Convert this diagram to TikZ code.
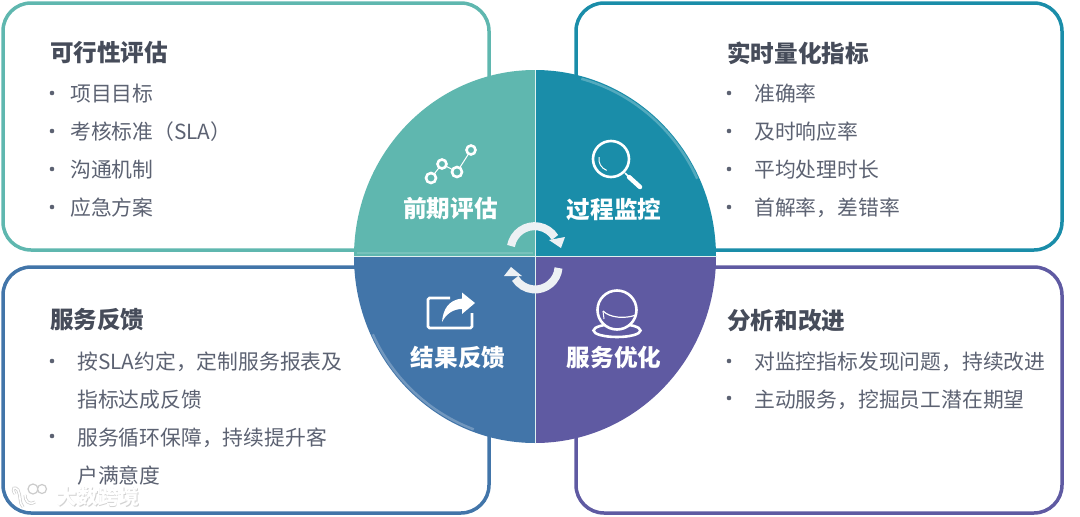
\documentclass[tikz,border=0pt]{standalone}
\usepackage{fontspec}
\setmainfont{Noto Sans CJK SC}
\usepackage{xcolor}
\usetikzlibrary{arrows.meta,positioning,calc}
\definecolor{ink}{HTML}{464C5A}
\definecolor{slate}{HTML}{5C6272}
\definecolor{tealq}{HTML}{5FB7AF}
\definecolor{cyanq}{HTML}{1A8DA9}
\definecolor{blueq}{HTML}{4275A9}
\definecolor{violetq}{HTML}{5F5AA2}
\definecolor{cycle}{HTML}{EDF1F4}
\tikzset{
  panel/.style={draw=#1,line width=3.5pt,rounded corners=28pt,fill=white},
  title/.style={font=\fontsize{23.6}{25}\selectfont\bfseries,text=ink,anchor=west,inner sep=0pt},
  item/.style={font=\fontsize{20.8}{23}\selectfont,text=slate,anchor=north west,inner sep=0pt,minimum height=37.6pt,text height=19pt,text depth=3pt},
  dot/.style={circle,fill=slate,inner sep=0pt,minimum size=4.6pt},
  quad/.style={font=\fontsize{23.6}{25}\selectfont\bfseries,text=white,inner sep=0pt},
  icon/.style={draw=white,line width=2.6pt},
  cyclearr/.style={draw=cycle,line width=8pt},
  wmark/.style={text=white,font=\fontsize{20.7}{22}\selectfont\bfseries,inner sep=0pt},
  wmlogo/.style={draw=gray!40,line width=1.2pt,fill=white}
}
\begin{document}
\begin{tikzpicture}[x=1pt,y=-1pt]
  \useasboundingbox (0,0) rectangle (1080,517);
  % outer panels
  \draw[panel=tealq] (3,3) rectangle (489,250);
  \draw[panel=cyanq] (576,3) rectangle (1062,250);
  \draw[panel=blueq] (3,267) rectangle (489,513);
  \draw[panel=violetq] (576,267) rectangle (1062,513);

  % four quarters
  \coordinate (hub) at (535,256.5);
  \fill[tealq] (hub) -- (354,256.5) arc[start angle=180,end angle=90,x radius=181,y radius=-186.5] -- cycle;
  \fill[cyanq] (hub) -- (535,70) arc[start angle=90,end angle=0,x radius=181,y radius=-186.5] -- cycle;
  \fill[blueq] (hub) -- (354,256.5) arc[start angle=180,end angle=270,x radius=181,y radius=-186.5] -- cycle;
  \fill[violetq] (hub) -- (535,443) arc[start angle=270,end angle=360,x radius=181,y radius=-186.5] -- cycle;
  % bevel
  \draw[cyanq!75!white,line width=2.5pt] ($(hub)+(75:179 and -184)$) arc[start angle=75,end angle=25,x radius=179,y radius=-184];
  \draw[blueq!75!white,line width=2.5pt] ($(hub)+(250:179 and -184)$) arc[start angle=250,end angle=205,x radius=179,y radius=-184];
  \draw[tealq!85!white,line width=1.5pt] (357,253) -- (533,253);
  \draw[white!80!tealq,line width=1pt] (535,70) -- (535,443);
  \draw[white!80!tealq,line width=1pt] (354,256.5) -- (716,256.5);

  % top left text
  \node[title] (evaltitle) at (50,53) {可行性评估};
  \node[item] (evala) at (70,74) {项目目标};
  \node[item,below=0pt of evala.south west,anchor=north west] (evalb) {考核标准（SLA）};
  \node[item,below=0pt of evalb.south west,anchor=north west] (evalc) {沟通机制};
  \node[item,below=0pt of evalc.south west,anchor=north west] (evald) {应急方案};
  \node[dot] (evaladot) at (52,93) {};
  \node[dot,below=33pt of evaladot] (evalbdot) {};
  \node[dot,below=33pt of evalbdot] (evalcdot) {};
  \node[dot,below=33pt of evalcdot] (evalddot) {};

  % top right text
  \node[title] (monitortitle) at (727,53) {实时量化指标};
  \node[item] (monitora) at (754,74) {准确率};
  \node[item,below=0pt of monitora.south west,anchor=north west] (monitorb) {及时响应率};
  \node[item,below=0pt of monitorb.south west,anchor=north west] (monitorc) {平均处理时长};
  \node[item,below=0pt of monitorc.south west,anchor=north west] (monitord) {首解率，差错率};
  \node[dot] (monitoradot) at (729,93) {};
  \node[dot,below=33pt of monitoradot] (monitorbdot) {};
  \node[dot,below=33pt of monitorbdot] (monitorcdot) {};
  \node[dot,below=33pt of monitorcdot] (monitorddot) {};

  % bottom left text
  \node[title] (feedtitle) at (50,320) {服务反馈};
  \node[item] (feeda) at (77,342) {按SLA约定，定制服务报表及};
  \node[item,below=0pt of feeda.south west,anchor=north west] (feedb) {指标达成反馈};
  \node[item,below=0pt of feedb.south west,anchor=north west] (feedc) {服务循环保障，持续提升客};
  \node[item,below=0pt of feedc.south west,anchor=north west] (feedd) {户满意度};
  \node[dot] (feedadot) at (52,361) {};
  \node[dot] (feedcdot) at (52,436) {};

  % bottom right text
  \node[title] (improvetitle) at (727,321) {分析和改进};
  \node[item] (improvea) at (754,342) {对监控指标发现问题，持续改进};
  \node[item,below=0pt of improvea.south west,anchor=north west] (improveb) {主动服务，挖掘员工潜在期望};
  \node[dot] (improveadot) at (729,361) {};
  \node[dot] (improvebdot) at (729,398) {};

  % quarter labels
  \node[quad] (qeval) at (450.5,209) {前期评估};
  \node[quad] (qmonitor) at (614,209) {过程监控};
  \node[quad] (qfeed) at (458,358) {结果反馈};
  \node[quad] (qimprove) at (614,358) {服务优化};

  % line chart icon
  \coordinate (ca) at (431,178);
  \coordinate (cb) at (442,164);
  \coordinate (cc) at (457,172);
  \coordinate (cd) at (471,150);
  \draw[white,line width=1pt] (ca) -- (cb) -- (cc) -- (cd);
  \draw[icon,fill=tealq] (ca) circle (5);
  \draw[icon,fill=tealq] (cb) circle (4.5);
  \draw[icon,fill=tealq] (cc) circle (5);
  \draw[icon,fill=tealq] (cd) circle (4.5);

  % magnifier icon
  \draw[icon] (611,159) circle (18);
  \draw[white,line width=1pt] (599,157) arc[start angle=190,end angle=110,radius=12];
  \draw[white,line width=1.5pt] (625,173) -- (630,178);
  \draw[white,line width=4.5pt,line cap=round] (629,177) -- (640,187);

  % share icon
  \draw[icon,rounded corners=1.5pt] (450,298) -- (428,298) -- (428,328) -- (472,328) -- (472,313);
  \fill[white] (475,303) -- (462,292.5) -- (462,298.5) .. controls (448,300) and (443,310) .. (442,322)
    .. controls (446,314) and (453,309) .. (462,309) -- (462,314) -- cycle;

  % sphere icon
  \draw[icon] (617,330.5) ellipse (23.5 and 6.5);
  \draw[icon,fill=violetq] (617,310) circle (19.5);
  \draw[white,line width=1.2pt] (603,311) .. controls (610,318) and (625,319) .. (636,315);
  \draw[white,line width=1pt] (603,311) -- (604,319);

  % cycle arrows
  \draw[cyclearr] (511,246) arc[start angle=170,end angle=32,radius=24pt];
  \fill[cycle] (561,248) -- (549,240) -- (565,237) -- cycle;
  \draw[cyclearr] (558.5,268) arc[start angle=-5,end angle=-148,radius=23.5pt];
  \fill[cycle] (511,267) -- (504,276) -- (522,276) -- cycle;

  % watermark
  \draw[gray!40,line width=3pt] (15,494) .. controls (11,488) and (15,486) .. (18,490) .. controls (21,496) and (19,503) .. (23,507);
  \draw[white,line width=1.6pt] (15,494) .. controls (11,488) and (15,486) .. (18,490) .. controls (21,496) and (19,503) .. (23,507);
  \draw[gray!40,line width=3pt] (35,502) .. controls (28,506) and (25,500) .. (25,495);
  \draw[white,line width=1.6pt] (35,502) .. controls (28,506) and (25,500) .. (25,495);
  \draw[wmlogo] (33,489) circle (5);
  \draw[wmlogo] (42,489) circle (4.5);
  \node[wmark,text=gray!35] (wmshadow) at (98.7,497.7) {大数跨境};
  \node[wmark] (wmtext) at (98,497) {大数跨境};
\end{tikzpicture}
\end{document}
